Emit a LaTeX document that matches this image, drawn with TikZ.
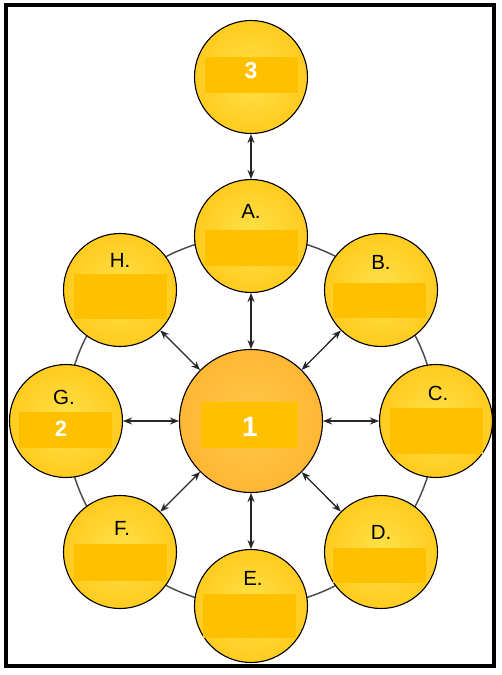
\documentclass[tikz,border=0pt]{standalone}
\usepackage{fontspec}
\setmainfont{Liberation Sans}
\usetikzlibrary{arrows.meta}
\definecolor{bubin}{HTML}{FFE24A}
\definecolor{bubout}{HTML}{FFCB1F}
\definecolor{hubin}{HTML}{FFC84A}
\definecolor{hubout}{HTML}{FFB734}
\definecolor{bandc}{HTML}{FFC000}
\definecolor{arrowc}{HTML}{262626}
\definecolor{ringc}{HTML}{4D4D4D}
\tikzset{
  bub/.style={circle, draw=black, line width=1.1pt, minimum size=113pt, inner sep=0pt,
    shading=radial, inner color=bubin, outer color=bubout},
  hub/.style={circle, draw=black, line width=1.1pt, minimum size=143pt, inner sep=0pt,
    shading=radial, inner color=hubin, outer color=hubout},
  band/.style={fill=bandc, inner sep=0pt, minimum width=93pt, minimum height=#1},
  letter/.style={font=\fontsize{20.5}{20.5}\selectfont, text=black, inner sep=0pt},
  num/.style={font=\bfseries\fontsize{#1}{#1}\selectfont, text=white, inner sep=0pt},
  link/.style={line width=1.3pt, draw=arrowc,
    {Stealth[length=9pt,width=7pt]}-{Stealth[length=9pt,width=7pt]}},
  ringline/.style={draw=ringc, line width=1.5pt},
  frame/.style={draw=black, line width=3.5pt}
}
\begin{document}
\begin{tikzpicture}[x=1pt,y=-1pt]
\fill[white] (0,0) rectangle (501,675);
\useasboundingbox (0,0) rectangle (501,675);
\draw[frame] (6,5) rectangle (494,666);
\coordinate (O) at (251,421);
\draw[ringline] (O) circle[radius=185];
% bubbles
\node[bub] (N3) at (251,77) {};
\node[bub] (A) at (251,236) {};
\node[bub] (B) at (381,290) {};
\node[bub] (C) at (436,421) {};
\node[bub] (D) at (381,552) {};
\node[bub] (E) at (251,606) {};
\node[bub] (F) at (120,552) {};
\node[bub] (G) at (66,421) {};
\node[bub] (H) at (120,290) {};
\node[hub] (N1) at (251,421) {};
% bands
\node[band=36pt] (b3) at (251,75) {};
\node[band=36pt] (bA) at (251,248) {};
\node[band=35pt] (bB) at (379,300) {};
\node[band=46pt] (bC) at (436,431) {};
\node[band=35pt] (bD) at (379,565) {};
\node[band=44pt] (bE) at (249,616) {};
\node[band=37pt] (bF) at (120,562) {};
\node[band=36pt] (bG) at (65,430) {};
\node[band=45pt] (bH) at (120,296) {};
\node[band=46pt, minimum width=97pt] (b1) at (249,425) {};
% labels
\node[num=23] (t3) at (251,71) {3};
\node[num=28] (t1) at (250,427) {1};
\node[num=22] (t2) at (61,429) {2};
\node[letter] (tA) at (251,211) {A.};
\node[letter] (tB) at (381,262) {B.};
\node[letter] (tC) at (438,393) {C.};
\node[letter] (tD) at (381,532) {D.};
\node[letter] (tE) at (253,578) {E.};
\node[letter] (tF) at (122,528) {F.};
\node[letter] (tG) at (64,397) {G.};
\node[letter] (tH) at (120,260) {H.};
% arrows
\draw[link] (N3) -- (A);
\draw[link] (N1) -- (A);
\draw[link] (N1) -- (B);
\draw[link] (N1) -- (C);
\draw[link] (N1) -- (D);
\draw[link] (N1) -- (E);
\draw[link] (N1) -- (F);
\draw[link] (N1) -- (G);
\draw[link] (N1) -- (H);
\end{tikzpicture}
\end{document}
